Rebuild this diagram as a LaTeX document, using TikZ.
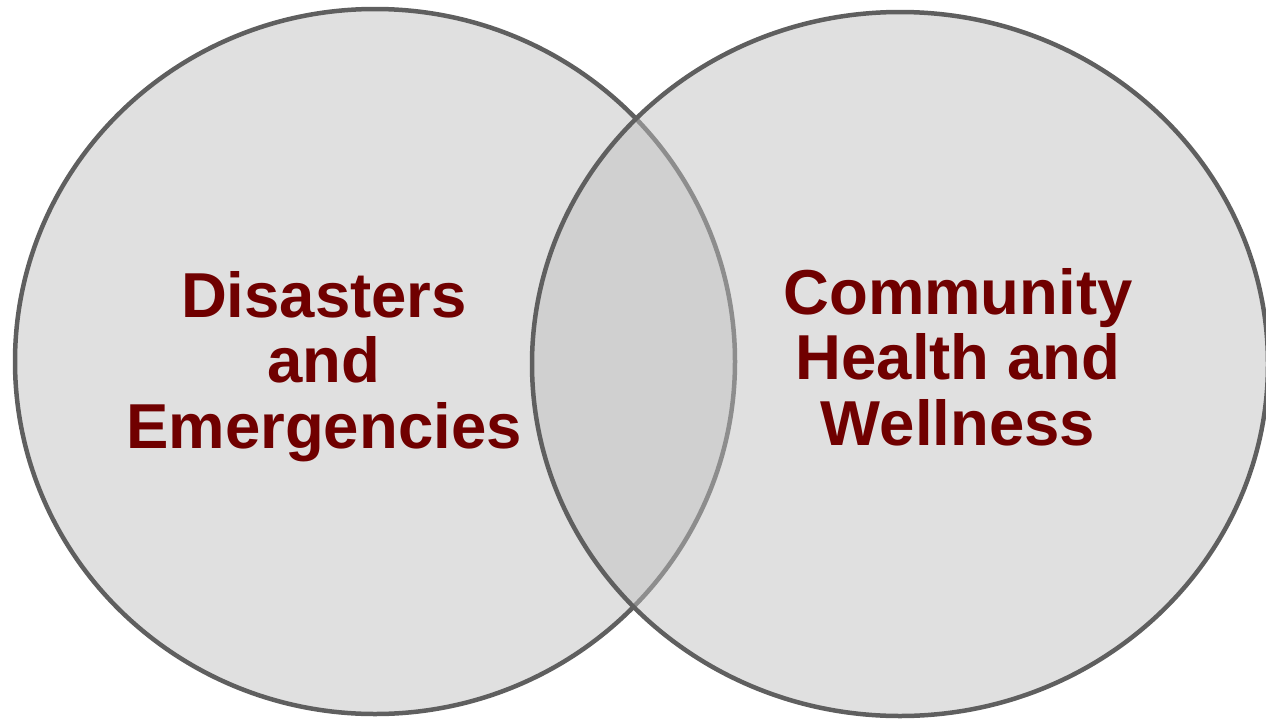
\documentclass[tikz,border=0pt]{standalone}
\usepackage{fontspec}
\setmainfont{Liberation Sans}
\definecolor{ringline}{RGB}{95,95,95}
\definecolor{leftfill}{RGB}{224,224,224}
\definecolor{rightfill}{RGB}{191,191,191}
\definecolor{labelred}{RGB}{112,0,0}
\begin{document}
\begin{tikzpicture}[x=1pt,y=-1pt,
  ring/.style={draw=ringline,line width=4.5pt},
  label/.style={text=labelred,align=center,anchor=base,inner sep=0pt,
    font=\fontsize{63.5}{65.5}\selectfont\bfseries}]
\useasboundingbox (0,0) rectangle (1266,718);
\path[ring,fill=leftfill] (375,361.5) ellipse [x radius=360,y radius=352.5];
\path[fill=rightfill,fill opacity=0.484] (900,364) ellipse [x radius=368,y radius=352];
\draw[ring] (900,364) ellipse [x radius=368,y radius=352];
\node[label] (left) at (324,448) {Disasters\\and\\Emergencies};
\node[label] (right) at (958,445) {Community\\Health and\\Wellness};
\end{tikzpicture}
\end{document}
